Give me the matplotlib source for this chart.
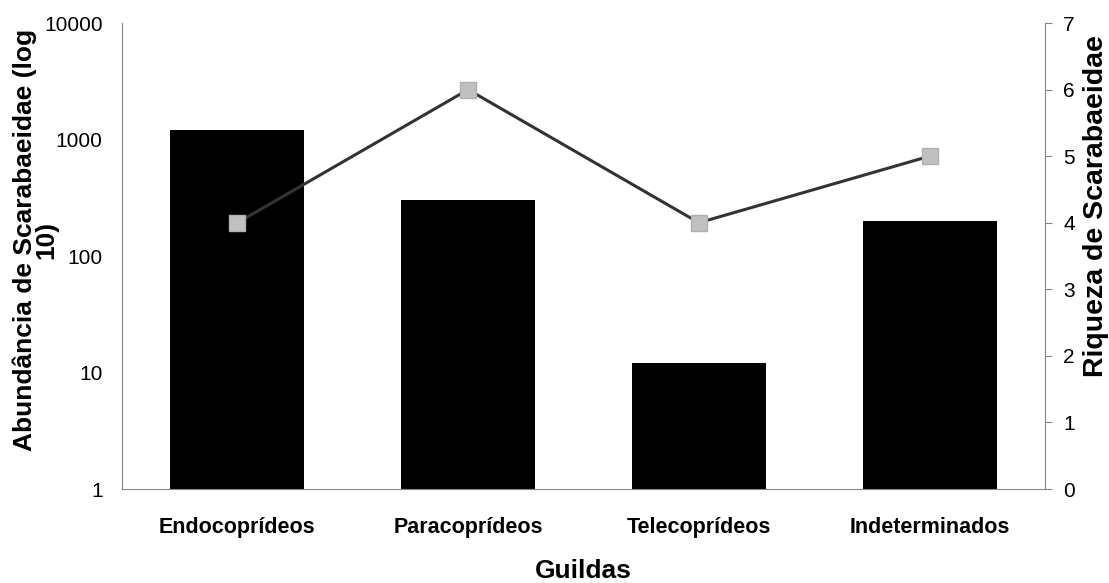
import matplotlib.pyplot as plt

plt.rcParams['font.family'] = ['Liberation Sans', 'DejaVu Sans']

guildas = ['Endocoprídeos', 'Paracoprídeos', 'Telecoprídeos', 'Indeterminados']
abundancia = [1200, 300, 12, 200]
riqueza = [4, 6, 4, 5]

axis_color = '#868686'

fig = plt.figure(figsize=(11.09, 5.83), dpi=100)
ax = fig.add_axes([0.110, 0.1612, 0.8323, 0.7993])

x = range(len(guildas))
ax.bar(x, abundancia, width=0.58, color='black')
ax.set_yscale('log')
ax.set_ylim(1, 10000)
ax.set_xlim(-0.5, len(guildas) - 0.5)
ax.set_yticks([1, 10, 100, 1000, 10000])
ax.set_yticklabels(['1', '10', '100', '1000', '10000'])
ax.minorticks_off()
ax.tick_params(axis='y', length=0, labelsize=15, pad=14)
ax.set_xticks(list(x))
ax.set_xticklabels(guildas, fontweight='bold', fontsize=15.5)
ax.tick_params(axis='x', length=0, pad=20)
ax.set_xlabel('Guildas', fontweight='bold', fontsize=19, labelpad=15)

for s in ['top', 'right']:
    ax.spines[s].set_visible(False)
for s in ['left', 'bottom']:
    ax.spines[s].set_color(axis_color)

ax2 = ax.twinx()
ax2.plot(list(x), riqueza, color='#333333', linewidth=2.2, marker='s',
         markersize=12, markerfacecolor='#c0c0c0', markeredgecolor='#b0b0b0',
         zorder=3)
ax2.set_ylim(0, 7)
ax2.set_yticks(range(8))
ax2.tick_params(axis='y', length=5, color=axis_color, labelsize=15, pad=8)
for s in ['top', 'left', 'bottom']:
    ax2.spines[s].set_visible(False)
ax2.spines['right'].set_color(axis_color)

fig.text(0.032, 0.588, 'Abundância de Scarabaeidae (log\n10)', rotation=90,
         ha='center', va='center', multialignment='center', linespacing=0.9,
         fontweight='bold', fontsize=19)
fig.text(0.988, 0.6466, 'Riqueza de Scarabaeidae', rotation=90,
         ha='center', va='center', fontweight='bold', fontsize=20.5)

fig.savefig('out.png', dpi=100)
